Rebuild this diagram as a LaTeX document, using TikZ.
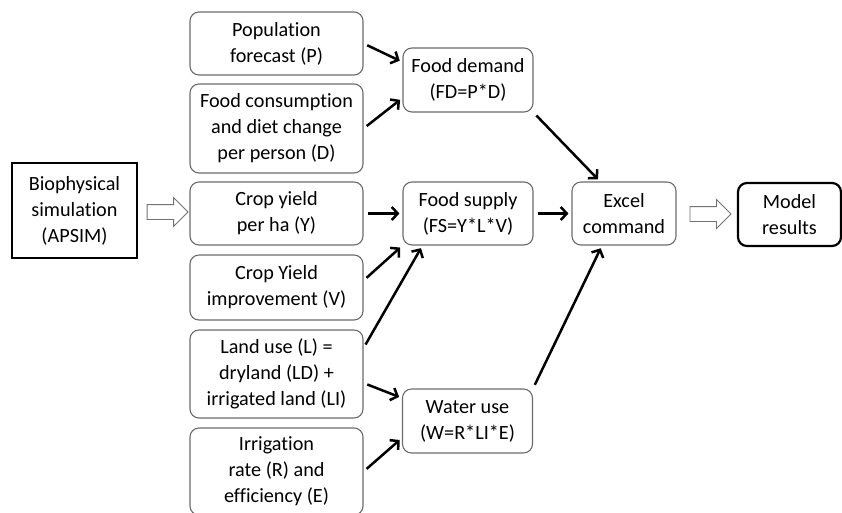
\documentclass[tikz,border=0pt]{standalone}
\usepackage{fontspec}
\setmainfont{Carlito}[Ligatures={NoCommon,NoRequired,NoContextual}]
\usetikzlibrary{arrows.meta,shapes.arrows,calc}

\begin{document}
\begin{tikzpicture}[x=1pt,y=-1pt,
		every node/.style={align=center,inner sep=0pt,font=\fontsize{20.2}{26}\selectfont},
		box/.style={draw=black!58,line width=1.1pt,rounded corners=9pt},
		inbox/.style={box,minimum width=173pt},
		calcbox/.style={box,minimum width=130pt,minimum height=64pt},
		link/.style={-{Straight Barb[length=6pt,width=13pt]},line width=2.5pt,shorten <=4pt,shorten >=3pt},
		hollow/.style={single arrow,draw=black!55,fill=white,line width=0.9pt,inner xsep=0pt,inner ysep=7pt,
			minimum height=41pt,single arrow head extend=7pt}
		]
		\useasboundingbox (0,0) rectangle (842,512);
		\node[draw=black,line width=2.4pt,minimum width=125pt,minimum height=95pt] (bio) at (74.5,210.5) {Biophysical\\simulation\\(APSIM)};
		\node[inbox,minimum height=63pt] (pop) at (276.5,43.5) {Population\\forecast (P)};
		\node[inbox,minimum height=89pt] (cons) at (276.5,128.5) {Food consumption\\and diet change\\per person (D)};
		\node[inbox,minimum height=63pt] (yield) at (276.5,213.5) {Crop yield\\per ha (Y)};
		\node[inbox,minimum height=65pt] (impr) at (276.5,287.5) {Crop Yield\\improvement (V)};
		\node[inbox,minimum height=88pt] (land) at (276.5,374) {Land use (L) =\\dryland (LD) +\\irrigated land (LI)};
		\node[inbox,minimum height=87pt] (irrig) at (276.5,471.5) {Irrigation\\rate (R) and\\efficiency (E)};
		\node[calcbox] (fd) at (468,80) {Food demand\\(FD=P*D)};
		\node[calcbox,minimum height=63pt] (fs) at (468,213.5) {Food supply\\(FS=Y*L*V)};
		\node[calcbox] (water) at (467.5,421) {Water use\\(W=R*LI*E)};
		\node[box,minimum width=104pt,minimum height=63pt] (excel) at (624,213.5) {Excel\\command};
		\node[box,draw=black,line width=2.2pt,minimum width=103pt,minimum height=63pt] (model) at (789.5,214.5) {Model\\results};

		\node[hollow] (bioarrow) at ($(bio.east)!0.5!(yield.west)$) {};
		\node[hollow] (modelarrow) at ($(excel.east)!0.5!(model.west)$) {};

		\draw[link] (pop.east) -- ([yshift=18pt]fd.west);
		\draw[link] (cons.east) -- ([yshift=-18pt]fd.west);
		\draw[link] (yield.east) -- (fs.west);
		\draw[link] ([yshift=7pt]impr.east) -- (fs.south west);
		\draw[link] ([yshift=26pt]land.east) -- ([xshift=20pt]fs.south west);
		\draw[link] ([yshift=-9pt]land.east) -- ([yshift=23pt]water.west);
		\draw[link] (irrig.east) -- ([yshift=-17pt]water.west);
		\draw[link] (fs.east) -- (excel.west);
		\draw[link] (fd.south east) -- ([xshift=-24pt]excel.north);
		\draw[link] (water.north east) -- ([xshift=-22pt]excel.south);
\end{tikzpicture}
\end{document}
